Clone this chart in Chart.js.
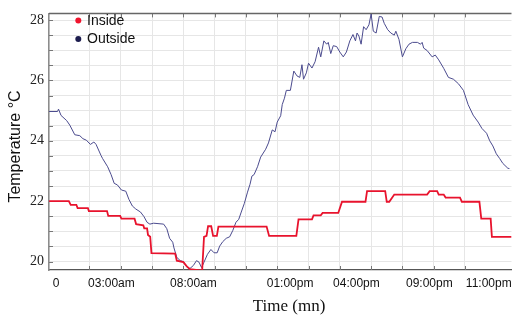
<!DOCTYPE html>
<html>
<head>
<meta charset="utf-8">
<script src="https://cdn.jsdelivr.net/npm/chart.js@4"></script>
<style>
  html, body { margin:0; padding:0; background:#fff; }
  canvas { display:block; }
</style>
</head>
<body>
<canvas id="tempChart" width="518" height="321"></canvas>
<script>
// time axis labels (positions in sample units, grid every 10)
const timeLabels = ['0','03:00am','08:00am','01:00pm','04:00pm','09:00pm','11:00pm'];
const timeLabelPos = [-0.7, 17.0, 43.2, 74.1, 95.3, 118.6, 137.6];
const tempTicks = [20, 22, 24, 26, 28];

// outside temperature
const outsideT = [-2.9,-0.2,0.1,0.9,2.7,3.7,5.3,6.9,7.9,9.0,10.3,11.4,12.1,13.7,14.2,15.8,16.9,17.9,18.9,20.2,21.6,22.6,23.7,24.8,26.3,27.4,28.4,29.3,30.5,33.7,34.7,35.6,36.6,37.0,37.9,39.0,40.0,41.1,42.1,43.2,44.2,45.0,45.8,46.6,47.7,48.8,49.8,50.8,51.6,52.6,53.7,54.8,55.8,56.8,57.7,58.4,59.5,60.5,61.3,61.9,62.6,63.7,64.7,66.3,67.2,68.4,69.3,70.0,71.1,71.6,72.3,72.9,74.2,75.3,76.3,77.2,77.9,78.4,79.3,80.0,81.1,82.1,83.2,83.9,84.9,85.8,86.3,87.1,87.9,89.0,90.0,91.1,92.1,93.2,94.2,95.0,95.5,96.1,96.8,97.6,98.4,99.3,100.0,100.7,101.6,102.6,103.5,104.2,105.3,106.3,107.4,107.9,108.9,110.0,111.1,112.1,113.2,114.8,115.8,116.3,116.8,117.9,119.5,120.5,121.6,123.2,124.7,126.3,127.9,129.5,131.0,132.6,134.2,135.4,136.9,137.9,138.9,140.0,141.1,142.1,143.7,144.2];
const outsideTemp = [24.97,24.97,25.05,24.84,24.67,24.52,24.2,24.17,24.07,24.02,23.88,23.96,23.88,23.51,23.41,23.14,22.88,22.59,22.54,22.37,22.33,22.06,21.84,21.74,21.64,21.49,21.3,21.24,21.27,21.24,21.09,20.77,20.64,20.45,20.14,20.03,20.0,19.82,19.77,19.87,20.03,19.98,19.8,19.98,20.24,20.4,20.29,20.29,20.51,20.66,20.77,20.82,21.03,21.3,21.4,21.61,21.93,22.3,22.56,22.83,22.88,23.14,23.46,23.72,23.93,24.36,24.3,24.62,24.83,25.2,25.41,25.67,25.67,26.31,26.15,26.1,26.52,26.04,26.25,26.57,26.41,26.62,27.1,26.78,27.31,27.2,27.26,26.89,27.15,27.12,26.94,26.78,26.94,27.31,27.52,27.31,27.57,27.47,27.2,27.78,27.68,27.84,28.2,27.63,27.57,28.12,28.1,27.89,27.68,27.57,27.5,27.63,27.36,26.78,27.05,27.2,27.26,27.26,27.2,27.26,27.07,26.99,26.78,26.84,26.68,26.4,26.1,26.04,25.89,25.67,25.2,24.85,24.62,24.41,24.25,24.0,23.83,23.57,23.41,23.25,23.09,23.08];

// inside temperature (stepped)
const insideT = [-2.9,3.4,4.0,5.8,6.2,9.5,9.8,15.6,16.0,19.8,20.2,24.4,24.9,27.2,27.5,28.4,28.7,29.4,29.8,37.4,37.9,40.0,41.1,42.1,46.0,46.6,47.4,47.9,48.9,49.5,50.7,51.2,66.6,67.4,76.1,76.8,81.1,81.6,83.9,84.5,89.5,90.7,98.2,98.7,104.5,105.0,105.8,107.4,117.9,118.7,121.1,121.6,123.2,123.8,128.4,129.0,134.6,135.2,138.2,138.6,144.9];
const insideTemp = [22.0,22.0,21.88,21.88,21.77,21.77,21.67,21.67,21.51,21.51,21.42,21.42,21.24,21.2,21.1,21.1,20.88,20.82,20.28,20.26,20.03,19.98,19.84,19.75,19.7,20.82,20.85,21.17,21.17,20.85,20.85,21.16,21.16,20.85,20.85,21.4,21.4,21.53,21.53,21.61,21.61,21.98,21.98,22.33,22.33,21.98,21.98,22.22,22.22,22.33,22.33,22.22,22.22,22.12,22.12,21.98,21.98,21.42,21.42,20.82,20.82];

const X_MIN = -2.94, X_MAX = 144.86;
const Y_MIN = 19.72, Y_MAX = 28.22;

function pts(xs, ys){ return xs.map((x,i) => ({x:x, y:ys[i]})); }

// small inner tick marks + top frame
const frameTicks = {
  id: 'frameTicks',
  beforeDatasetsDraw(chart){
    const {ctx, chartArea:a, scales} = chart;
    ctx.save();
    ctx.strokeStyle = '#777';
    ctx.lineWidth = 1;
    ctx.beginPath();
    scales.y.ticks.forEach(t => {
      const y = Math.round(scales.y.getPixelForValue(t.value)) + 0.5;
      ctx.moveTo(a.left, y); ctx.lineTo(a.left + 4, y);
    });
    scales.x.ticks.forEach(t => {
      const x = Math.round(scales.x.getPixelForValue(t.value)) + 0.5;
      ctx.moveTo(x, a.bottom); ctx.lineTo(x, a.bottom - 4);
      ctx.moveTo(x, a.top); ctx.lineTo(x, a.top + 4);
    });
    ctx.stroke();
    ctx.strokeStyle = '#666';
    ctx.lineWidth = 1.5;
    ctx.beginPath();
    ctx.moveTo(a.left, a.top); ctx.lineTo(a.right, a.top);
    ctx.stroke();
    ctx.restore();
  }
};

// legend inside plot + axis titles
const overlay = {
  id: 'overlay',
  afterDraw(chart){
    const ctx = chart.ctx;
    ctx.save();
    ctx.font = '14px "Liberation Sans", Arial, sans-serif';
    ctx.textBaseline = 'middle';
    chart.data.datasets.forEach((ds, i) => {
      const y = 20.5 + i * 18.5;
      ctx.fillStyle = ds.backgroundColor;
      ctx.beginPath(); ctx.arc(78.3, y, 3, 0, Math.PI*2); ctx.fill();
      ctx.fillStyle = '#111';
      ctx.fillText(ds.label, 87, y + 0.5);
    });
    ctx.textAlign = 'center';
    ctx.fillStyle = '#111';
    ctx.font = '17px "Liberation Serif", "Times New Roman", serif';
    ctx.fillText('Time (mn)', 289, 307);
    ctx.translate(16, 146.5);
    ctx.rotate(-Math.PI/2);
    ctx.font = '16px "Liberation Sans", Arial, sans-serif';
    ctx.fillText('Temperature °C', 0, 0);
    ctx.restore();
  }
};

new Chart(document.getElementById('tempChart').getContext('2d'), {
  type: 'line',
  data: {
    datasets: [
      { label:'Inside', data: pts(insideT, insideTemp), borderColor:'#e8132d', backgroundColor:'#f0142d',
        borderWidth:1.8, pointRadius:0, tension:0 },
      { label:'Outside', data: pts(outsideT, outsideTemp), borderColor:'#4b4b8e', backgroundColor:'#1c1c4e',
        borderWidth:1, pointRadius:0, tension:0 }
    ]
  },
  options: {
    responsive:false,
    animation:false,
    layout:{ padding:{left:0, right:1, top:1, bottom:0}, autoPadding:false },
    plugins:{ legend:{display:false}, tooltip:{enabled:false} },
    scales:{
      x:{
        type:'linear', position:'bottom', min:X_MIN, max:X_MAX,
        ticks:{ display:false, stepSize:10 },
        afterBuildTicks: s => { s.ticks = s.ticks.filter(t => Math.abs(t.value/10 - Math.round(t.value/10)) < 1e-6); },
        afterFit: s => { s.height = 0; },
        grid:{ color:'#e6e6e6', drawTicks:false },
        border:{ color:'#555', width:1.2 }
      },
      xl:{
        type:'linear', position:'bottom', min:X_MIN, max:X_MAX,
        afterBuildTicks: s => { s.ticks = timeLabelPos.map(v => ({value:v})); },
        afterFit: s => { s.height = 51; },
        ticks:{ autoSkip:false, maxRotation:0, padding:6, color:'#111',
          font:{ family:'"Liberation Sans", Arial, sans-serif', size:12 },
          callback: (v, i) => timeLabels[i] },
        grid:{ display:false, drawTicks:false },
        border:{ display:false }
      },
      y:{
        min:Y_MIN, max:Y_MAX,
        ticks:{ padding:5, color:'#222', autoSkip:false,
          font:{ family:'"Liberation Serif", "Times New Roman", serif', size:14 },
          callback: v => tempTicks.includes(v) ? String(v) : '' },
        // gridline every half degree, labels on the even degrees
        afterBuildTicks: s => {
          const t = [];
          for (let k = tempTicks[0] * 2; k <= tempTicks[tempTicks.length - 1] * 2; k++) t.push({value: k / 2});
          s.ticks = t;
        },
        afterFit: s => { s.width = 49; },
        grid:{ color:'#e6e6e6', drawTicks:false },
        border:{ color:'#8c8c8c', width:1.6 }
      }
    }
  },
  plugins:[frameTicks, overlay]
});
</script>
</body>
</html>
